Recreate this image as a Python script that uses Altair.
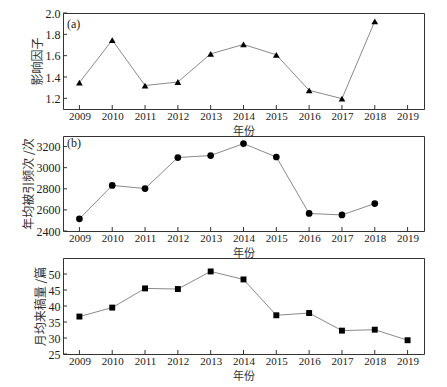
import altair as alt
import pandas as pd

years = list(range(2009, 2020))
years_ab = list(range(2009, 2019))
impact = [1.348, 1.746, 1.320, 1.353, 1.617, 1.705, 1.608, 1.275, 1.197, 1.922]
citations = [2515, 2832, 2802, 3096, 3115, 3228, 3101, 2566, 2552, 2660]
submissions = [36.7, 39.5, 45.5, 45.3, 50.8, 48.3, 37.1, 37.8, 32.3, 32.6, 29.3]

ticks_a = [1.2, 1.4, 1.6, 1.8, 2.0]
ticks_b = [2400, 2600, 2800, 3000, 3200]
ticks_c = [25, 30, 35, 40, 45, 50]

SERIF = "Liberation Serif"
CJK = "Noto Sans CJK SC"
W = 361


def panel(xs, vals, yticks, ydomain, yfmt, ytitle, shape, size, label, H, label_y):
    df = pd.DataFrame({"year": xs, "value": vals})
    xenc = alt.X("year:Q",
                 scale=alt.Scale(domain=[2008.5, 2019.5], nice=False, zero=False),
                 axis=alt.Axis(values=years, format="d", title="年份"))
    yenc = alt.Y("value:Q",
                 scale=alt.Scale(domain=ydomain, nice=False, zero=False),
                 axis=alt.Axis(values=yticks, format=yfmt, title=ytitle))
    base = alt.Chart(df)
    line = base.mark_line(color="#8a8a8a", strokeWidth=1).encode(x=xenc, y=yenc)
    pts = base.mark_point(shape=shape, size=size, filled=True, color="black",
                          opacity=1).encode(x=xenc, y=yenc)
    xt = alt.Chart(pd.DataFrame({"year": years})).mark_rule(
        color="#333", strokeWidth=1).encode(x=xenc, y=alt.value(H), y2=alt.value(H - 4))
    yt = alt.Chart(pd.DataFrame({"value": yticks})).mark_rule(
        color="#333", strokeWidth=1).encode(y=yenc, x=alt.value(0), x2=alt.value(4))
    layers = [line, pts, xt, yt]
    if label:
        txt = alt.Chart(pd.DataFrame({"t": [label]})).mark_text(
            align="left", baseline="middle", font=SERIF, fontSize=12, color="#222"
        ).encode(x=alt.value(4), y=alt.value(label_y), text="t:N")
        layers.append(txt)
    return alt.layer(*layers).properties(width=W, height=H)


p1 = panel(years_ab, impact, ticks_a, [1.1, 2.0], ".1f", "影响因子",
           "triangle-up", 45, "(a)", 96, 11)
p2 = panel(years_ab, citations, ticks_b, [2400, 3300], "d", "年均被引频次 /次",
           "circle", 45, "(b)", 95, 7)
p3 = panel(years, submissions, ticks_c, [25, 55], "d", "月均来稿量 /篇",
           "square", 35, None, 96, 0)

chart = alt.vconcat(p1, p2, p3, spacing=27, bounds="flush").configure_view(
    stroke="#333", strokeWidth=1
).configure_axis(
    grid=False, ticks=False, domain=False,
    labelFont=SERIF, labelFontSize=12, labelColor="#222", labelPadding=3,
    titleFont=CJK, titleFontSize=12, titleFontWeight="normal", titleColor="#333",
    titlePadding=1,
).configure_axisX(labelPadding=1, titlePadding=4, labelFontSize=11,
                  titleFontSize=11).properties(
    padding={"left": 13, "top": -2, "right": 5, "bottom": 3}
)

chart.save("out.html", embed_options={"renderer": "svg", "actions": False})
